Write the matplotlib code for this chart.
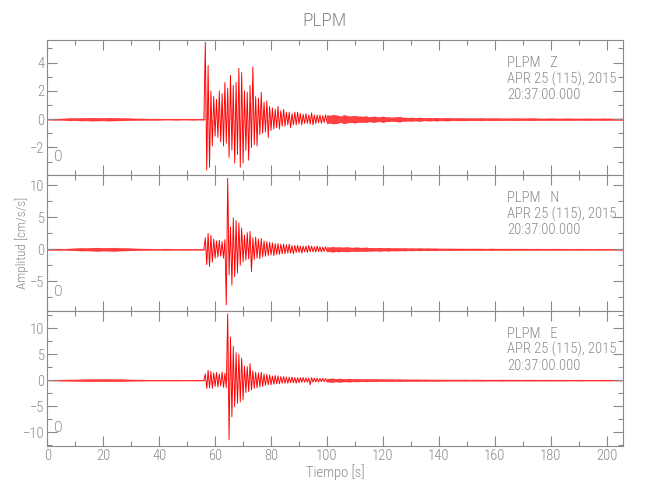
import numpy as np
import matplotlib
matplotlib.use('Agg')
import matplotlib.pyplot as plt
from matplotlib import font_manager
from matplotlib.ticker import MultipleLocator

station = 'PLPM'
components = ['Z', 'N', 'E']
date_text = 'APR 25 (115), 2015'
time_text = '20:37:00.000'
x_ticks = [0, 20, 40, 60, 80, 100, 120, 140, 160, 180, 200]

# peak values of each trace, in segments of (start s, step s, values)
z_segments = [
    (0.0, 2.0, [0.03, -0.04, 0.04, -0.05, 0.08, -0.07, 0.09, -0.08, 0.1, -0.09, 0.08, -0.1, 0.09, -0.08,
                0.07, -0.06, 0.05, -0.05, 0.04, -0.04, 0.04, -0.03, 0.03, -0.04, 0.03, -0.03, 0.04, -0.03, 0.04]),
    (56.0, 0.5, [0.04, 5.45, -3.6, 3.8, -3.4, 2.0, -1.9, 1.6, -1.2, 1.4, -1.3, 2.0, -1.6, 1.8, -1.9, 2.6,
                 -1.7, 2.2, -2.7, 3.1, -2.2, 2.4, -3.1, 2.6, -2.5, 3.6, -3.4, 3.3, -3.1, 2.0, -2.2, 1.9,
                 -2.9, 2.4, -2.0, 3.7, -1.8, 1.6, -1.9, 1.5, -1.1, 1.9, -1.0, 1.2, -0.9, 1.3, -1.3, 0.9,
                 -0.8, 0.8, -0.7, 0.7, -0.6, 0.9, -0.7, 0.6, -0.5, 0.7, -0.5, 0.5, -0.4, 0.5, -0.6, 0.4,
                 -0.4, 0.5, -0.4, 0.5, -0.35, 0.4, -0.4, 0.35, -0.3, 0.4, -0.3, 0.3, -0.35, 0.45, -0.4, 0.3,
                 -0.3, 0.3, -0.25, 0.3, -0.3, 0.25, -0.25, 0.3, -0.2]),
    (100.0, 1.0, [0.3, -0.25, 0.3, -0.3, 0.25, -0.2, 0.3, -0.25, 0.2, -0.22, 0.25, -0.2, 0.2, -0.18,
                  0.22, -0.15, 0.18, -0.2, 0.15, -0.15, 0.2, -0.15, 0.15, -0.12, 0.14, -0.15, 0.18, -0.12,
                  0.12, -0.1, 0.12, -0.1, 0.1, -0.12, 0.1, -0.08, 0.1, -0.1, 0.08, -0.1]),
    (139.0, 2.0, [0.1, -0.08, 0.1, -0.07, 0.08, -0.08, 0.07, -0.07, 0.08, -0.06, 0.07, -0.07, 0.06, -0.06,
                  0.07, -0.06, 0.06, -0.07, 0.06, -0.05, 0.06, -0.06, 0.05, -0.06, 0.06, -0.05, 0.05, -0.06,
                  0.05, -0.05, 0.06, -0.05, 0.05, -0.05, 0.05]),
]

n_segments = [
    (0.0, 2.0, [0.08, -0.1, 0.1, -0.08, 0.12, -0.15, 0.2, -0.18, 0.22, -0.25, 0.2, -0.22, 0.25, -0.2,
                0.18, -0.15, 0.12, -0.1, 0.1, -0.08, 0.08, -0.1, 0.08, -0.07, 0.08, -0.08, 0.07, -0.08, 0.08]),
    (56.0, 0.5, [0.1, 1.8, -2.4, 2.5, -2.7, 2.2, -2.0, 1.6, -1.4, 1.3, -1.2, 1.4, -1.1, 1.2, -1.4, 1.5,
                 -8.7, 11.1, -4.0, 3.5, -5.6, 4.9, -4.3, 4.5, -3.7, 4.1, -2.5, 3.3, -2.0, 2.2, -1.7, 2.6,
                 -1.5, 2.8, -3.5, 1.8, -1.6, 1.9, -1.4, 1.6, -1.5, 1.7, -1.2, 1.3, -1.1, 1.2, -1.0, 1.1,
                 -0.9, 1.0, -1.0, 0.9, -0.8, 0.9, -0.8, 0.8, -0.7, 0.8, -0.7, 0.7, -0.6, 0.8, -0.6, 0.6,
                 -0.7, 0.6, -0.5, 0.6, -0.5, 0.5, -0.6, 0.5, -0.4, 0.5, -0.5, 0.6, -0.4, 0.5, -0.4, 0.4,
                 -0.4, 0.5, -0.35, 0.4, -0.4, 0.35, -0.35, 0.4, -0.3]),
    (100.0, 1.0, [0.35, -0.3, 0.4, -0.3, 0.35, -0.3, 0.3, -0.35, 0.3, -0.25, 0.3, -0.3, 0.25, -0.25,
                  0.3, -0.22, 0.25, -0.2, 0.22, -0.25, 0.2, -0.2, 0.25, -0.18, 0.2, -0.2, 0.18, -0.18,
                  0.2, -0.15, 0.18, -0.16, 0.15, -0.18, 0.15, -0.15, 0.16, -0.14, 0.15, -0.14]),
    (139.0, 2.0, [0.14, -0.12, 0.13, -0.12, 0.12, -0.12, 0.11, -0.12, 0.11, -0.1, 0.12, -0.1, 0.1, -0.11,
                  0.1, -0.1, 0.1, -0.09, 0.1, -0.09, 0.09, -0.1, 0.09, -0.09, 0.08, -0.09, 0.09, -0.08,
                  0.08, -0.09, 0.08, -0.08, 0.08, -0.08, 0.08]),
]

e_segments = [
    (0.0, 2.0, [0.06, -0.08, 0.08, -0.1, 0.12, -0.12, 0.15, -0.18, 0.2, -0.18, 0.2, -0.2, 0.18, -0.2,
                0.15, -0.12, 0.1, -0.1, 0.08, -0.08, 0.08, -0.07, 0.08, -0.08, 0.07, -0.07, 0.08, -0.07, 0.08]),
    (56.0, 0.5, [0.1, 1.2, -1.6, 1.9, -1.5, 1.7, -1.6, 1.4, -1.2, 1.5, -1.3, 1.2, -1.1, 1.6, -1.4, 1.3,
                 -1.5, 12.8, -11.5, 8.3, -7.1, 6.5, -5.1, 5.3, -4.5, 5.0, -4.2, 4.3, -3.8, 2.7, -2.4, 2.6,
                 -2.2, 3.2, -1.9, 1.8, -1.6, 1.5, -1.5, 1.4, -1.3, 1.5, -1.2, 1.2, -1.0, 1.1, -0.9, 1.0,
                 -0.9, 0.8, -0.8, 0.9, -0.7, 0.8, -0.7, 0.7, -0.6, 0.7, -0.6, 0.6, -0.6, 0.6, -0.5, 0.6,
                 -0.5, 0.5, -0.6, 0.5, -0.5, 0.5, -0.4, 0.5, -0.4, 0.45, -0.4, 0.4, -0.9, 0.5, -0.4, 0.4,
                 -0.35, 0.4, -0.35, 0.35, -0.3, 0.35, -0.3, 0.3, -0.3]),
    (100.0, 1.0, [0.3, -0.3, 0.35, -0.25, 0.3, -0.3, 0.25, -0.25, 0.3, -0.22, 0.25, -0.25, 0.22, -0.2,
                  0.25, -0.2, 0.2, -0.2, 0.22, -0.18, 0.2, -0.18, 0.18, -0.2, 0.16, -0.16, 0.18, -0.15,
                  0.16, -0.15, 0.15, -0.14, 0.15, -0.14, 0.13, -0.14, 0.13, -0.12, 0.13, -0.12]),
    (139.0, 2.0, [0.12, -0.12, 0.12, -0.11, 0.11, -0.12, 0.1, -0.11, 0.11, -0.1, 0.1, -0.1, 0.11, -0.1,
                  0.1, -0.09, 0.1, -0.1, 0.09, -0.09, 0.1, -0.09, 0.09, -0.09, 0.08, -0.09, 0.09, -0.08,
                  0.08, -0.08, 0.09, -0.08, 0.08, -0.08, 0.08]),
]

y_limits = [(-3.97, 5.6), (-9.6, 11.56), (-12.7, 13.4)]
y_major = [2, 5, 5]
y_minor = [1, 2.5, 2.5]

# pick a thin narrow font if there is one
fam = 'DejaVu Sans'
for name in ['Liberation Sans Narrow', 'Roboto Condensed', 'Liberation Sans']:
    try:
        font_manager.findfont(name, fallback_to_default=False)
        fam = name
        break
    except Exception:
        pass
plt.rcParams['font.family'] = [fam, 'DejaVu Sans']
plt.rcParams['font.weight'] = 'light'
plt.rcParams['axes.labelweight'] = 'light'
plt.rcParams['figure.titleweight'] = 'light'

gray = '#8a8a8a'
red = '#ff0000'
fs = 10.5

fig, axes = plt.subplots(3, 1, figsize=(6.5, 5), dpi=100, sharex=True)
fig.subplots_adjust(left=0.0728, right=0.959, top=0.92, bottom=0.108, hspace=0)

for ax, comp, segs, ylim, maj, mnr in zip(axes, components, [z_segments, n_segments, e_segments],
                                          y_limits, y_major, y_minor):
    for start, step, vals in segs:
        t = start + step * np.arange(len(vals))
        v = np.array(vals)
        if step < 1:
            # strong motion: peak to peak swings, lobes lightly filled
            ax.fill_between(t, 0, v, color=red, alpha=0.3, lw=0)
            ax.plot(t, v, color=red, lw=0.65)
        else:
            # quiet part: noise band
            ax.fill_between(t, -np.abs(v), np.abs(v), color=red, alpha=0.75, lw=0.4)
    ax.set_xlim(0, 206)
    ax.set_ylim(*ylim)
    ax.xaxis.set_major_locator(MultipleLocator(20))
    ax.xaxis.set_minor_locator(MultipleLocator(10))
    ax.yaxis.set_major_locator(MultipleLocator(maj))
    ax.yaxis.set_minor_locator(MultipleLocator(mnr))
    ax.tick_params(which='both', direction='in', top=True, right=True, colors=gray,
                   labelcolor=gray, labelsize=fs, width=0.8, pad=2)
    ax.tick_params(which='major', length=7)
    ax.tick_params(which='minor', length=3.5)
    for s in ax.spines.values():
        s.set_color(gray)
        s.set_linewidth(0.8)
    ax.text(0.798, 0.83, station + '   ' + comp, transform=ax.transAxes, color=gray,
            fontsize=fs, va='center', ha='left')
    ax.text(0.798, 0.712, date_text, transform=ax.transAxes, color=gray,
            fontsize=fs, va='center', ha='left')
    ax.text(0.798, 0.594, time_text, transform=ax.transAxes, color=gray,
            fontsize=fs, va='center', ha='left')
    ax.text(0.012, 0.135, 'O', transform=ax.transAxes, color=gray,
            fontsize=fs, va='center', ha='left')

axes[-1].set_xticks(x_ticks)
axes[-1].set_xlabel('Tiempo [s]', color=gray, fontsize=fs, labelpad=1)
axes[1].set_ylabel('Amplitud [cm/s/s]', color=gray, fontsize=9.5, labelpad=1)
fig.suptitle(station, color=gray, fontsize=14, y=0.975)

fig.savefig('out.png', dpi=100)
